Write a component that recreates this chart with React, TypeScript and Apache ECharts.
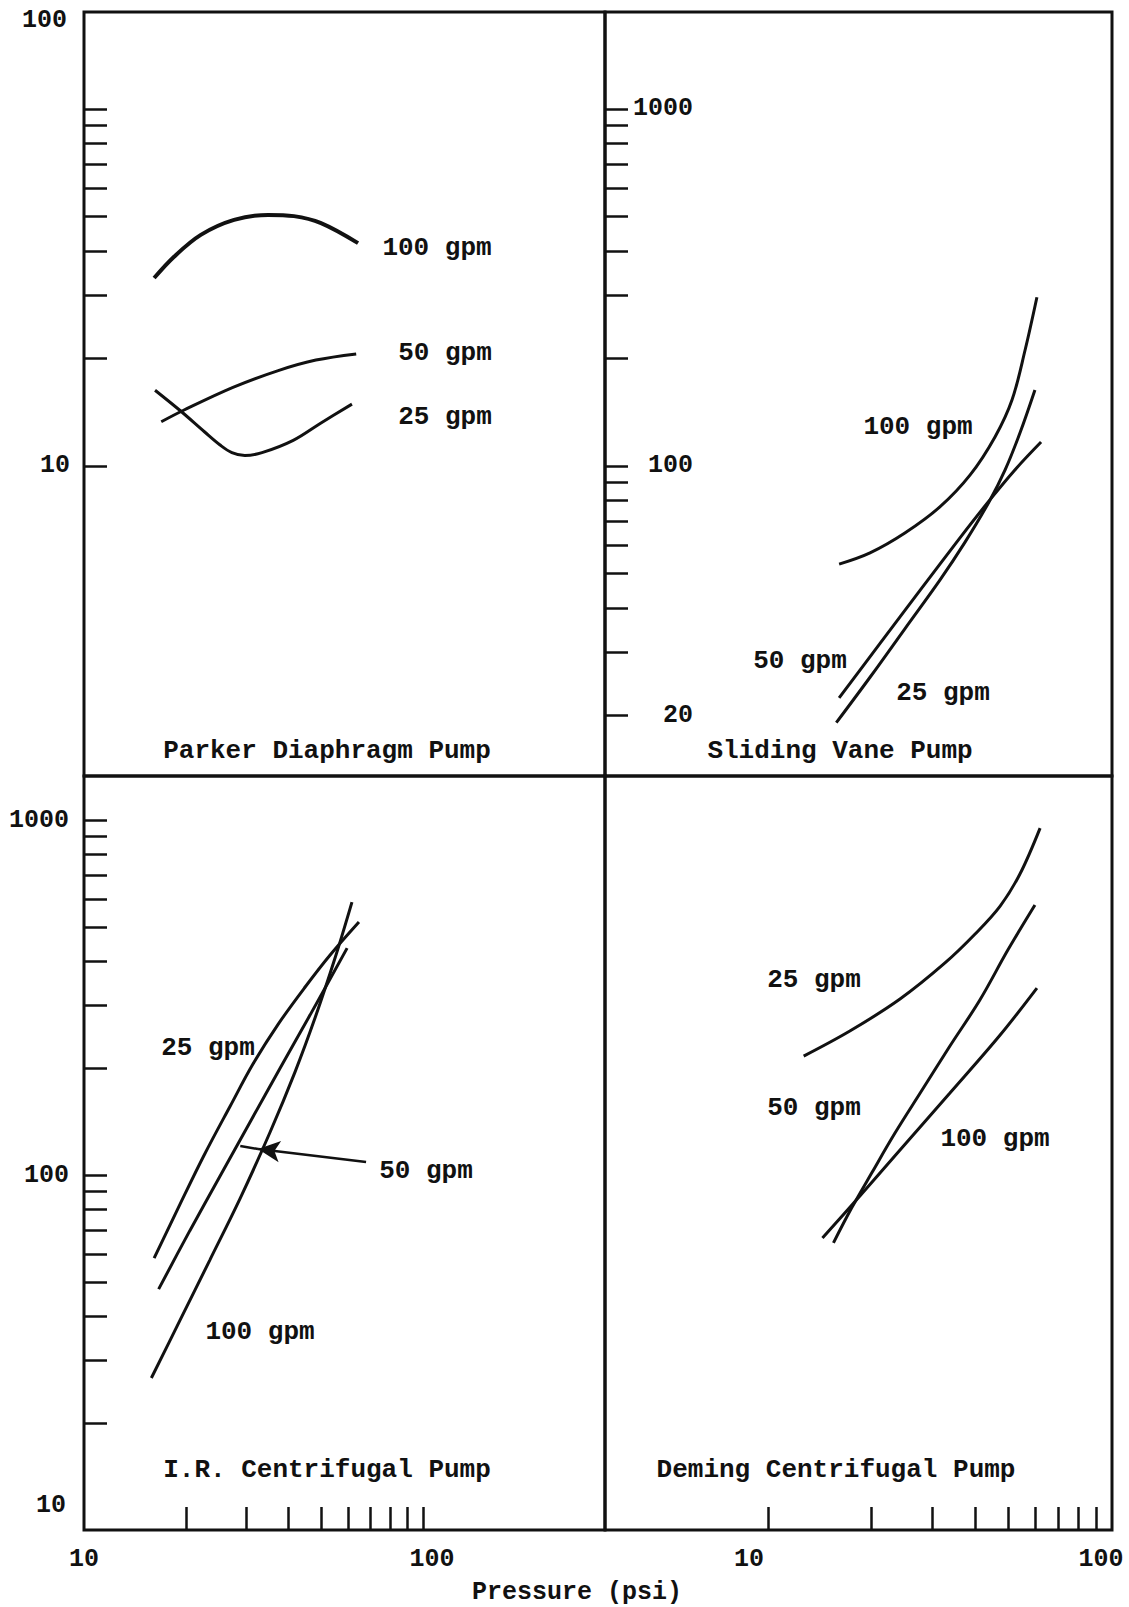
import React, { useEffect, useRef } from 'react';
import * as echarts from 'echarts';

// ---------- axis ranges (log scales) ----------
const X_LEFT_RANGE = [10, 344];
const X_RIGHT_RANGE = [3.36, 100];
const Y_TL_RANGE = [1.354, 186.9];
const Y_TR_RANGE = [13.54, 1869];
const Y_BOTTOM_RANGE = [10, 1331];

// ---------- ticks & labels ----------
const TL_Y_TICKS = [10, 20, 30, 40, 50, 60, 70, 80, 90, 100];
const TR_Y_TICKS = [20, 30, 40, 50, 60, 70, 80, 90, 100, 200, 300, 400, 500, 600, 700, 800, 900, 1000];
const BL_Y_TICKS = [20, 30, 40, 50, 60, 70, 80, 90, 100, 200, 300, 400, 500, 600, 700, 800, 900, 1000];
const BL_X_TICKS = [20, 30, 40, 50, 60, 70, 80, 90, 100];
const BR_X_TICKS = [10, 20, 30, 40, 50, 60, 70, 80, 90];
const TL_Y_LABELS = [10];
const TR_Y_LABELS = [20, 100, 1000];
const BL_Y_LABELS = [100, 1000];
const BL_X_LABELS = [10, 100];
const BR_X_LABELS = [10, 100];

// ---------- Parker Diaphragm Pump ----------
const parker100P = [16.1, 18.4, 22.1, 27.7, 34.9, 41.6, 50.0, 64.3];
const parker100V = [33.6, 38.5, 44.4, 48.9, 50.5, 50.1, 47.9, 42.1];
const parker50P = [16.9, 19.6, 27.5, 37.4, 48.3, 63.5];
const parker50V = [13.3, 14.3, 16.6, 18.5, 19.8, 20.6];
const parker25P = [16.2, 19.2, 22.7, 25.2, 27.3, 29.8, 33.5, 41.4, 50.0, 61.7];
const parker25V = [16.3, 14.3, 12.45, 11.45, 10.9, 10.7, 10.9, 11.8, 13.2, 14.9];

// ---------- Sliding Vane Pump ----------
const vane100P = [16.1, 19.8, 25.0, 31.6, 38.7, 45.7, 51.2, 55.9, 60.5];
const vane100V = [53.1, 57.1, 64.9, 76.8, 94.4, 120.6, 153.0, 211.3, 297];
const vane50P = [16.1, 21.2, 27.7, 36.1, 43.9, 52.2, 62.2];
const vane50V = [22.4, 31.9, 44.9, 62.8, 79.8, 97.5, 116.7];
const vane25P = [15.8, 19.8, 25.0, 31.6, 37.4, 43.9, 48.9, 54.0, 59.7];
const vane25V = [19.1, 25.6, 35.0, 47.9, 61.2, 79.3, 97.5, 123.7, 163.3];

// ---------- I.R. Centrifugal Pump ----------
const ir25P = [16.1, 19.2, 22.7, 27.0, 31.5, 37.4, 44.9, 53.2, 64.7];
const ir25V = [58.3, 82.8, 114.6, 156.5, 205.4, 266.2, 338.6, 416.7, 516.1];
const ir50P = [16.6, 20.5, 25.2, 30.9, 37.9, 46.4, 59.7];
const ir50V = [47.7, 69.6, 99.4, 141.1, 200.2, 282.2, 435.8];
const ir100P = [15.8, 19.2, 23.5, 28.9, 35.4, 41.9, 48.0, 55.0, 61.7];
const ir100V = [26.8, 39.0, 57.6, 86.1, 132.2, 195.0, 276.8, 408.6, 587.5];
const irArrowTail = [67.9, 108.8];
const irArrowTip = [32.6, 118.4];
const irArrowEnd = [28.9, 120.7];

// ---------- Deming Centrifugal Pump ----------
const deming25P = [12.7, 17.3, 24.2, 32.7, 40.0, 47.3, 54.0, 61.8];
const deming25V = [216.3, 254.5, 313.2, 395.8, 477.5, 572.5, 704.8, 949.5];
const deming50P = [15.5, 17.5, 20.1, 23.4, 27.7, 33.8, 41.3, 49.8, 59.7];
const deming50V = [64.4, 80.7, 102.0, 131.3, 170.2, 230.9, 311.2, 430.2, 576.2];
const deming100P = [14.4, 18.5, 24.2, 33.8, 47.3, 60.5];
const deming100V = [66.5, 87.3, 117.6, 170.2, 248.0, 336.3];

const INK = '#111';
const MONO = '"Liberation Mono", "DejaVu Sans Mono", monospace';
const TEXT_FONT = `bold 26px ${MONO}`;
const NUM_STYLE = { color: INK, fontFamily: MONO, fontWeight: 'bold', fontSize: 25 };

const pairs = (xs: number[], ys: number[]) => xs.map((x, i) => [x, ys[i]]);

function curve(xs: number[], ys: number[], gi: number, width = 3, extra: any = {}) {
  return {
    type: 'line',
    xAxisIndex: gi,
    yAxisIndex: gi,
    data: pairs(xs, ys),
    smooth: 0.35,
    showSymbol: false,
    symbol: 'none',
    silent: true,
    clip: false,
    lineStyle: { color: INK, width },
    ...extra,
  };
}

function text(str: string, x: number, y: number, font = TEXT_FONT, align = 'center') {
  return {
    type: 'text',
    x,
    y,
    silent: true,
    style: { text: str, fill: INK, font, align, verticalAlign: 'middle' },
  };
}

const labelFmt = (v: number) => String(Math.round(v));

function xAxis(gi: number, range: number[], ticks: number[] | null, labels: number[] | null, pads: any = null) {
  const rich: any = {};
  if (pads) {
    Object.keys(pads).forEach((k) => {
      rich['p' + k] = { ...NUM_STYLE, padding: pads[k] };
    });
  }
  return {
    type: 'log',
    logBase: 10,
    gridIndex: gi,
    min: range[0],
    max: range[1],
    axisLine: { show: false },
    splitLine: { show: false },
    axisTick: ticks
      ? { show: true, inside: true, length: 23, customValues: ticks, lineStyle: { color: INK, width: 2.5 } }
      : { show: false },
    axisLabel: labels
      ? {
          show: true,
          customValues: labels,
          formatter: (v: number) => {
            const s = labelFmt(v);
            return pads && pads[s] ? `{p${s}|${s}}` : s;
          },
          margin: 17,
          align: 'center',
          rich,
          ...NUM_STYLE,
        }
      : { show: false },
  };
}

function yAxis(gi: number, range: number[], ticks: number[] | null, labels: number[] | null, labelOpts: any = {}) {
  return {
    type: 'log',
    logBase: 10,
    gridIndex: gi,
    min: range[0],
    max: range[1],
    axisLine: { show: false },
    splitLine: { show: false },
    axisTick: ticks
      ? { show: true, inside: true, length: 23, customValues: ticks, lineStyle: { color: INK, width: 2.5 } }
      : { show: false },
    axisLabel: labels
      ? {
          show: true,
          customValues: labels,
          formatter: labelFmt,
          ...NUM_STYLE,
          ...labelOpts,
        }
      : { show: false },
  };
}

export default function App() {
  const ref = useRef<HTMLDivElement>(null);

  useEffect(() => {
    if (!ref.current) return;
    const chart = echarts.init(ref.current, null, { renderer: 'svg' });
    const gridStyle = { show: true, borderColor: INK, borderWidth: 3, backgroundColor: 'transparent' };

    const option: any = {
      animation: false,
      backgroundColor: '#fff',
      grid: [
        { left: 84, top: 12, width: 521, height: 764, ...gridStyle },
        { left: 605, top: 12, width: 507, height: 764, ...gridStyle },
        { left: 84, top: 776, width: 521, height: 754, ...gridStyle },
        { left: 605, top: 776, width: 507, height: 754, ...gridStyle },
      ],
      xAxis: [
        xAxis(0, X_LEFT_RANGE, null, null),
        xAxis(1, X_RIGHT_RANGE, null, null),
        xAxis(2, X_LEFT_RANGE, BL_X_TICKS, BL_X_LABELS, { '100': [0, 0, 0, 18] }),
        xAxis(3, X_RIGHT_RANGE, BR_X_TICKS, BR_X_LABELS, { '10': [0, 38, 0, 0], '100': [0, 22, 0, 0] }),
      ],
      yAxis: [
        yAxis(0, Y_TL_RANGE, TL_Y_TICKS, TL_Y_LABELS, { margin: 14 }),
        yAxis(1, Y_TR_RANGE, TR_Y_TICKS, TR_Y_LABELS, { inside: true, align: 'right', margin: 88 }),
        yAxis(2, Y_BOTTOM_RANGE, BL_Y_TICKS, BL_Y_LABELS, { margin: 15 }),
        yAxis(3, Y_BOTTOM_RANGE, null, null),
      ],
      series: [
        curve(parker100P, parker100V, 0, 4),
        curve(parker50P, parker50V, 0, 3),
        curve(parker25P, parker25V, 0, 3),
        curve(vane100P, vane100V, 1, 3),
        curve(vane50P, vane50V, 1, 3),
        curve(vane25P, vane25V, 1, 3),
        curve(ir25P, ir25V, 2, 3),
        curve(ir50P, ir50V, 2, 3, {
          markLine: {
            silent: true,
            symbol: ['none', 'arrow'],
            symbolSize: [16, 22],
            label: { show: false },
            lineStyle: { color: INK, width: 2.5, type: 'solid' },
            data: [
              [{ coord: irArrowTail }, { coord: irArrowTip }],
              [{ coord: irArrowTip, symbol: 'none' }, { coord: irArrowEnd, symbol: 'none' }],
            ],
          },
        }),
        curve(ir100P, ir100V, 2, 3),
        curve(deming25P, deming25V, 3, 3),
        curve(deming50P, deming50V, 3, 3),
        curve(deming100P, deming100V, 3, 3),
      ],
      graphic: [
        text('100', 67, 20, `bold 25px ${MONO}`, 'right'),
        text('10', 66, 1505, `bold 25px ${MONO}`, 'right'),
        // Parker
        text('100 gpm', 437, 248),
        text('50 gpm', 445, 353),
        text('25 gpm', 445, 417),
        text('Parker Diaphragm Pump', 327, 751),
        // Sliding vane
        text('100 gpm', 918, 427),
        text('50 gpm', 800, 661),
        text('25 gpm', 943, 693),
        text('Sliding Vane Pump', 840, 751),
        // I.R.
        text('25 gpm', 208, 1048),
        text('50 gpm', 426, 1171),
        text('100 gpm', 260, 1332),
        text('I.R. Centrifugal Pump', 327, 1470),
        // Deming
        text('25 gpm', 814, 980),
        text('50 gpm', 814, 1108),
        text('100 gpm', 995, 1139),
        text('Deming Centrifugal Pump', 836, 1470),
        // x title
        text('Pressure (psi)', 577, 1592, `bold 25px ${MONO}`),
      ],
    };

    chart.setOption(option);
    return () => chart.dispose();
  }, []);

  return (
    <div
      ref={ref}
      style={{ position: 'absolute', left: 0, top: 0, width: 1129, height: 1607, background: '#fff' }}
    />
  );
}
